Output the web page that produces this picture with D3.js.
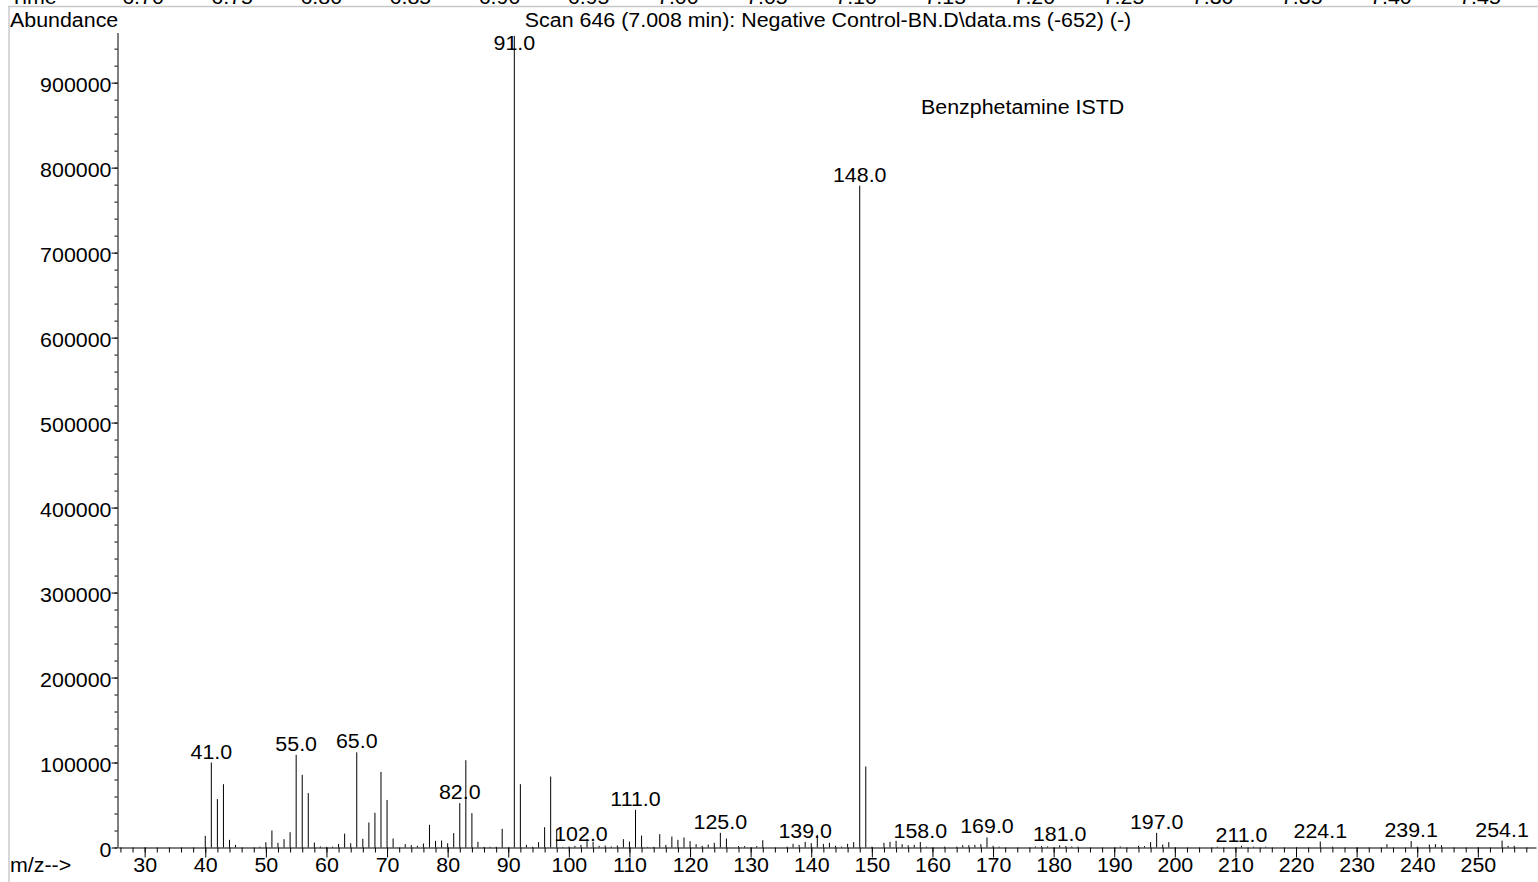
<!DOCTYPE html>
<html>
<head>
<meta charset="utf-8">
<script src="https://cdn.jsdelivr.net/npm/d3@7"></script>
<style>
  html, body { margin: 0; padding: 0; background: #fff; overflow: hidden; }
  svg text { font-family: "Liberation Sans", Arial, sans-serif; font-size: 20px; fill: #000; }
</style>
</head>
<body>
<svg id="chart" width="1538" height="882"></svg>
<script>
// m/z of each ion and its abundance (counts)
const mz = [40,41,42,43,44,45,49,50,51,52,53,54,55,56,57,58,59,60,61,62,63,64,65,66,67,68,69,70,71,
  73,74,75,76,77,78,79,80,81,82,83,84,85,86,87,88,89,91,92,93,94,95,96,97,98,99,100,101,102,103,104,
  105,106,107,108,109,110,111,112,113,114,115,116,117,118,119,120,121,122,123,124,125,126,128,129,
  131,132,136,137,138,139,140,141,142,143,144,145,146,147,148,149,150,152,153,154,155,156,157,158,159,
  162,164,165,166,167,168,169,170,171,177,178,179,181,182,183,184,191,194,195,196,197,198,199,
  207,211,213,215,224,226,235,239,240,242,243,244,254,255,256];
const abundance = [13700,100000,57000,74500,9000,3000,1000,6200,20000,5500,9800,18000,109000,85500,64000,5800,1200,800,1000,4200,16300,5000,112000,10200,29400,40800,89000,56000,10600,
  4000,2800,2000,4700,26700,7800,8200,5000,16900,52200,102700,40400,6700,800,800,1000,22000,955000,74500,3100,800,6300,23900,83500,20800,600,1000,2000,3100,10200,6700,
  2000,2300,1200,2300,9800,7000,44300,14100,800,800,15700,3100,12900,9000,11800,7500,3900,2000,3500,5500,17300,10600,1600,1600,
  1600,8500,1000,4300,3100,6700,5100,14900,4300,5500,2000,1000,4300,6300,778800,95300,1000,5500,6700,7800,3900,2700,3100,6500,1000,
  1000,1000,2700,2700,3100,3900,11800,2000,1000,1200,1600,1200,2600,1600,1200,1000,1200,2000,1600,6300,17200,3500,6300,
  1000,2000,1000,1000,7000,1000,3900,7500,1000,3500,3900,2700,8100,2000,2000];

// peak labels printed above the bars
const peakLabels = ["41.0","55.0","65.0","82.0","91.0","102.0","111.0","125.0","139.0","148.0",
  "158.0","169.0","181.0","197.0","211.0","224.1","239.1","254.1"];

// axis tick labels
const xTicks = d3.range(30, 251, 10);
const xMinor = d3.range(26, 260, 2);
const yTicks = [0,100000,200000,300000,400000,500000,600000,700000,800000,900000];
const yMinor = d3.range(0, 959000, 20000);

// time axis of the chromatogram above (mostly cut off)
const timeTicks = ["6.70","6.75","6.80","6.85","6.90","6.95","7.00","7.05","7.10","7.15","7.20","7.25","7.30","7.35","7.40","7.45"];

const title = "Scan 646 (7.008 min): Negative Control-BN.D\\data.ms (-652) (-)";
const compound = "Benzphetamine ISTD";

const svg = d3.select("#chart");
const SX = 1.07;   // the original font is a bit wider than Liberation Sans
const wide = t => t.attr("transform", function () {
  const prev = d3.select(this).attr("data-tr") || "";
  return prev + " scale(" + SX + ",1)";
});

const x = d3.scaleLinear().domain([25.6, 259.6]).range([118, 1536]);
const y = d3.scaleLinear().domain([0, 959000]).range([847.5, 32.5]);
const t = d3.scaleLinear().domain([6.70, 7.45]).range([143, 1480]);

// frame lines of the report window
svg.append("line").attr("x1", 8).attr("x2", 1538).attr("y1", 6.5).attr("y2", 6.5)
  .attr("stroke", "#c8c8c8").attr("stroke-width", 1.5);
svg.append("line").attr("x1", 9).attr("x2", 9).attr("y1", 7).attr("y2", 882)
  .attr("stroke", "#d8d8d8").attr("stroke-width", 2);

// cut off time labels
svg.append("text").attr("data-tr", "translate(10,3.5)").text("Time").call(wide);
svg.selectAll(".tlab").data(timeTicks).enter().append("text")
  .attr("class", "tlab")
  .attr("data-tr", d => `translate(${t(+d)},3.5)`)
  .attr("text-anchor", "middle")
  .text(d => d).call(wide);

// Y axis
svg.append("g")
  .attr("transform", "translate(117.5,0)")
  .call(d3.axisLeft(y).tickValues(yMinor).tickSize(3).tickFormat("").tickSizeOuter(0))
  .call(g => g.select(".domain").remove())
  .selectAll("line").attr("stroke", "#000");
const yAx = svg.append("g")
  .attr("transform", "translate(117.5,0)")
  .call(d3.axisLeft(y).tickValues(yTicks).tickSize(6).tickSizeOuter(0).tickFormat(d3.format("d")));
yAx.select(".domain").attr("stroke", "#000");
yAx.selectAll("text")
  .attr("x", null).attr("dy", null)
  .attr("data-tr", "translate(-6,9)")
  .call(wide);

// X axis
svg.append("g")
  .attr("transform", "translate(0,847.5)")
  .call(d3.axisBottom(x).tickValues(xMinor).tickSize(5).tickFormat("").tickSizeOuter(0))
  .call(g => g.select(".domain").remove())
  .selectAll("line").attr("stroke", "#000");
const xAx = svg.append("g")
  .attr("transform", "translate(0,847.5)")
  .call(d3.axisBottom(x).tickValues(xTicks).tickSize(10).tickSizeOuter(0));
xAx.select(".domain").attr("stroke", "#000");
xAx.selectAll("text")
  .attr("y", null).attr("dy", null)
  .attr("data-tr", "translate(0,24.5)")
  .call(wide);
d3.selectAll(".tick text").attr("fill", "#000");
svg.selectAll("g").attr("font-size", null).attr("font-family", null);

svg.append("text").attr("data-tr", "translate(10,27)").text("Abundance").call(wide);
svg.append("text").attr("data-tr", "translate(10,872)").text("m/z-->").call(wide);
svg.append("text").attr("data-tr", "translate(828,27)").attr("text-anchor", "middle").text(title).call(wide);
svg.append("text").attr("data-tr", "translate(921,114)").text(compound).call(wide);

// spectrum bars
const peaks = mz.map((m, i) => ({ m, v: abundance[i] }));
svg.append("g").selectAll("line").data(peaks).enter().append("line")
  .attr("x1", d => x(d.m)).attr("x2", d => x(d.m))
  .attr("y1", y(0)).attr("y2", d => y(d.v))
  .attr("stroke", "#000").attr("stroke-width", 1);

// peak labels
const byMz = new Map(peaks.map(d => [d.m, d.v]));
svg.append("g").selectAll("text").data(peakLabels).enter().append("text")
  .attr("text-anchor", "middle")
  .attr("data-tr", d => {
    const m = Math.round(+d);
    const yy = Math.max(y(byMz.get(m)) - 4, 50);
    return `translate(${x(m)},${yy})`;
  })
  .text(d => d).call(wide);
</script>
</body>
</html>
